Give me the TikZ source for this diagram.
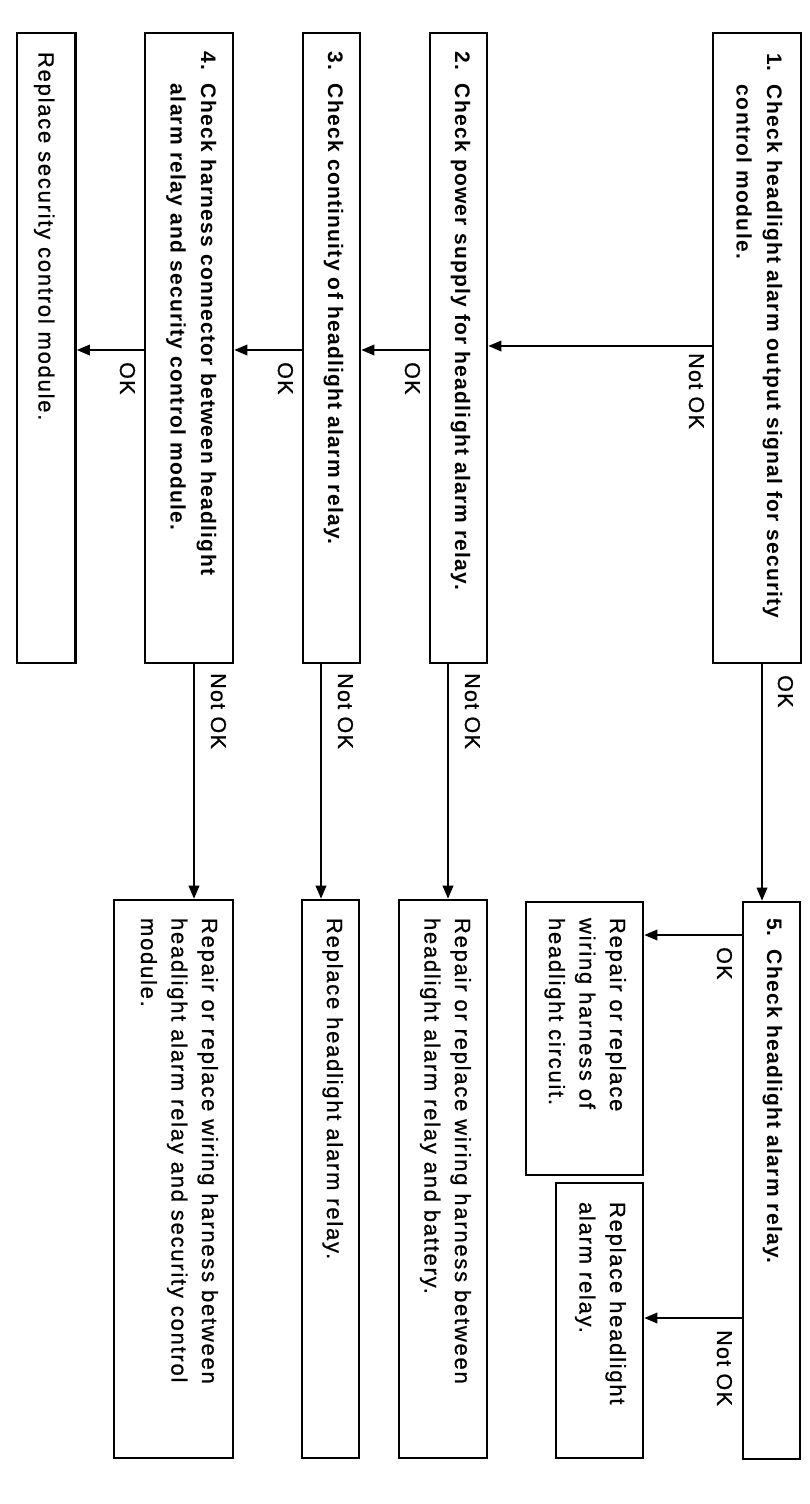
\documentclass[tikz,border=0pt]{standalone}
\usepackage{fontspec}
\setmainfont{Liberation Sans}
\newfontfamily\regfam[LetterSpace=8, FakeBold=0.8]{Liberation Sans}
\newfontfamily\boldfam[LetterSpace=6]{Liberation Sans}
\newfontfamily\lblfam[LetterSpace=6, FakeBold=0.8]{Liberation Sans}
\usetikzlibrary{arrows.meta}
\newcommand\txtf{\regfam\fontsize{22pt}{30.5pt}\selectfont}
\newcommand\hdf{\boldfam\bfseries\fontsize{21pt}{30.5pt}\selectfont}
\newcommand\lblf{\lblfam\fontsize{21.5pt}{25pt}\selectfont}
\newcommand\bxt[4]{\parbox[c][#1][t]{#2}{\raggedright\vspace*{#3}\rule{0pt}{16pt}#4}}
\newcommand\numb[1]{\makebox[32pt][l]{#1}}
\begin{document}
\begin{tikzpicture}[x=1pt,y=-1pt,
  boxn/.style={draw, line width=2.6pt, rotate=-90, inner ysep=0pt},
  arr/.style={line width=1.9pt, -{Triangle[length=13pt,width=10.5pt]}},
  lbl/.style={rotate=-90, inner sep=0pt, anchor=base west, font=\lblf}]
\fill[white] (0,0) rectangle (810,1504);
\useasboundingbox (0,0) rectangle (810,1504);

% top row (long boxes)
\node[boxn, font=\hdf, inner xsep=20pt] (b1) at (757,348)
  {\bxt{88pt}{590pt}{18pt}{\numb{1.}Check headlight alarm output signal for security\\\hspace*{32pt}control module.}};
\node[boxn, font=\hdf, inner xsep=19pt] (b2) at (458.5,348)
  {\bxt{57pt}{592pt}{16pt}{\numb{2.}Check power supply for headlight alarm relay.}};
\node[boxn, font=\hdf, inner xsep=19pt] (b3) at (331.5,348)
  {\bxt{57pt}{592pt}{16pt}{\numb{3.}Check continuity of headlight alarm relay.}};
\node[boxn, font=\hdf, inner xsep=19pt] (b4) at (189,348)
  {\bxt{88pt}{592pt}{16pt}{\numb{4.}Check harness connector between headlight\\\hspace*{32pt}alarm relay and security control module.}};
\node[boxn, font=\txtf, inner xsep=19pt] (b6) at (46.25,348)
  {\bxt{58.5pt}{592pt}{21pt}{Replace security control module.}};

% bottom row
\node[boxn, font=\hdf, inner xsep=16pt] (b5) at (771.5,1180.5)
  {\bxt{57pt}{525pt}{17pt}{\numb{5.}Check headlight alarm relay.}};
\node[boxn, font=\txtf, inner xsep=16pt] (b7) at (584.5,1038.5)
  {\bxt{117pt}{241pt}{17pt}{Repair or replace\\wiring harness of\\headlight circuit.}};
\node[boxn, font=\txtf, inner xsep=19pt] (b8) at (599.5,1320.5)
  {\bxt{87pt}{237pt}{17pt}{Replace headlight\\alarm relay.}};
\node[boxn, font=\txtf, inner xsep=18pt] (b9) at (443,1179)
  {\bxt{88pt}{522pt}{16pt}{Repair or replace wiring harness between\\headlight alarm relay and battery.}};
\node[boxn, font=\txtf, inner xsep=18pt] (b10) at (330.5,1179)
  {\bxt{57pt}{522pt}{16pt}{Replace headlight alarm relay.}};
\node[boxn, font=\txtf, inner xsep=18pt] (b11) at (173.5,1179)
  {\bxt{119pt}{522pt}{15pt}{Repair or replace wiring harness between\\headlight alarm relay and security control\\module.}};

% connector rows / columns
\coordinate (r1) at (0,346);
\coordinate (r2) at (0,350);
\coordinate (r5) at (0,935);
\coordinate (r6) at (0,1318);
\coordinate (c1) at (762,0);
\coordinate (c2) at (448,0);
\coordinate (c3) at (321,0);
\coordinate (c4) at (194,0);

\draw[arr] (b1.south |- r1) -- (b2.north |- r1);
\draw[arr] (b2.south |- r2) -- (b3.north |- r2);
\draw[arr] (b3.south |- r2) -- (b4.north |- r2);
\draw[arr] (b4.south |- r2) -- (b6.north |- r2);
\draw[arr] (b1.east -| c1) -- (b5.west -| c1);
\draw[arr] (b2.east -| c2) -- (b9.west -| c2);
\draw[arr] (b3.east -| c3) -- (b10.west -| c3);
\draw[arr] (b4.east -| c4) -- (b11.west -| c4);
\draw[arr] (b5.south |- r5) -- (b7.north |- r5);
\draw[arr] (b5.south |- r6) -- (b8.north |- r6);

% labels
\node[lbl] (l1) at (689,353) {Not OK};
\node[lbl] (l2) at (405,362) {OK};
\node[lbl] (l3) at (278,362) {OK};
\node[lbl] (l4) at (120,362) {OK};
\node[lbl] (l5) at (778,675) {OK};
\node[lbl] (l6) at (465,673) {Not OK};
\node[lbl] (l7) at (338,673) {Not OK};
\node[lbl] (l8) at (211,673) {Not OK};
\node[lbl] (l9) at (717,947) {OK};
\node[lbl] (l10) at (717,1330) {Not OK};
\end{tikzpicture}
\end{document}
